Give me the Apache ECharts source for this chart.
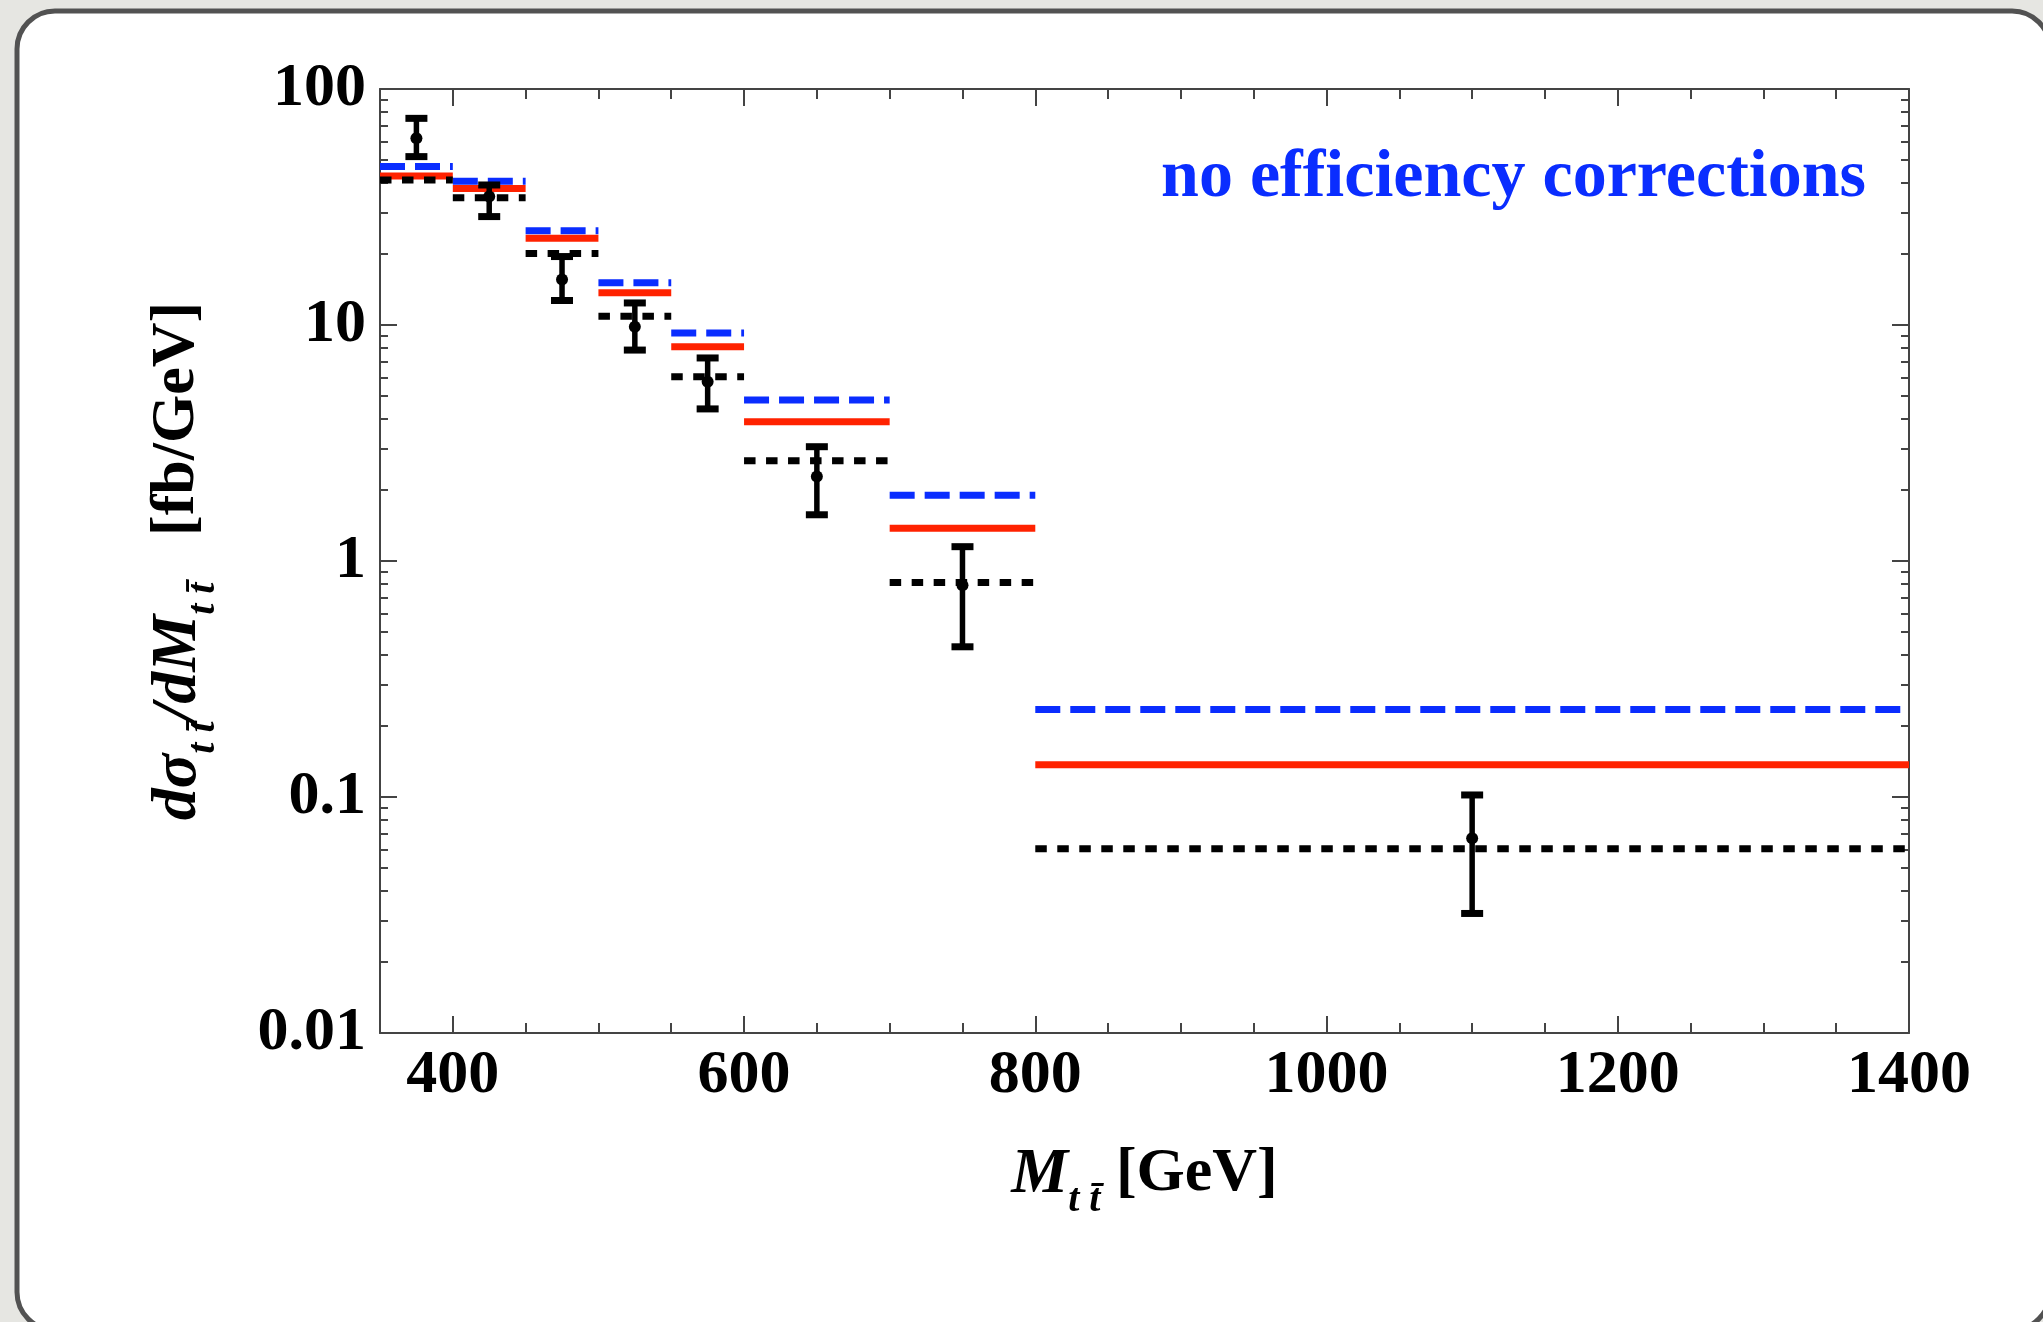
<!DOCTYPE html>
<html>
<head>
<meta charset="utf-8">
<script src="https://cdn.jsdelivr.net/npm/echarts@6/dist/echarts.min.js"></script>
<style>
html,body{margin:0;padding:0;background:#e6e6e2;}
#chart{width:2043px;height:1322px;}
</style>
</head>
<body>
<div id="chart"></div>
<script>
// ---- data ----
const binLo = [350, 400, 450, 500, 550, 600, 700, 800];
const binHi = [400, 450, 500, 550, 600, 700, 800, 1400];
const blueDashed = [46.9, 40.7, 25.1, 15.1, 9.25, 4.81, 1.90, 0.235];
const redSolid   = [42.8, 37.9, 23.3, 13.7, 8.09, 3.89, 1.375, 0.137];
const blackDotted= [41.2, 34.6, 20.1, 10.9, 6.04, 2.66, 0.811, 0.0603];
const dataX   = [375, 425, 475, 525, 575, 650, 750, 1100];
const dataY   = [61.8, 35.0, 15.6, 9.84, 5.75, 2.28, 0.79, 0.0668];
const errLow  = [51.7, 28.8, 12.7, 7.83, 4.41, 1.57, 0.433, 0.0321];
const errHigh = [75.1, 39.2, 19.5, 12.4, 7.25, 3.05, 1.15, 0.102];

const xMajorTicks = [400, 600, 800, 1000, 1200, 1400];
const xTickLabels = ['400', '600', '800', '1000', '1200', '1400'];
const xMinorTicks = [350, 450, 500, 550, 650, 700, 750, 850, 900, 950, 1050, 1100, 1150, 1250, 1300, 1350];
const yMajorTicks = [0.01, 0.1, 1, 10, 100];
const yTickLabels = ['0.01', '0.1', '1', '10', '100'];
const yMinorTicks = [0.02,0.03,0.04,0.05,0.06,0.07,0.08,0.09,
                     0.2,0.3,0.4,0.5,0.6,0.7,0.8,0.9,
                     2,3,4,5,6,7,8,9,
                     20,30,40,50,60,70,80,90];

const FONT = '"Liberation Serif", "DejaVu Serif", serif';
const AXIS_COLOR = '#444';

function xAxisDef(pos, ticks, len, withLine, withLabel) {
  return {
    type: 'value', min: 350, max: 1400, position: pos,
    axisLine: {show: withLine, onZero: false, lineStyle: {color: AXIS_COLOR, width: 2}},
    axisTick: {show: true, inside: true, length: len, customValues: ticks,
               lineStyle: {color: AXIS_COLOR, width: 2}},
    axisLabel: withLabel ? {show: true, customValues: xMajorTicks, margin: 12,
                color: '#000', fontFamily: FONT, fontWeight: 'bold', fontSize: 62,
                formatter: function (v) {
                  const k = xMajorTicks.indexOf(Math.round(v));
                  return k >= 0 ? xTickLabels[k] : '';
                }}
                         : {show: false},
    splitLine: {show: false}
  };
}
function yAxisDef(pos, ticks, len, withLine, withLabel) {
  return {
    type: 'log', logBase: 10, min: 0.01, max: 100, position: pos,
    axisLine: {show: withLine, onZero: false, lineStyle: {color: AXIS_COLOR, width: 2}},
    axisTick: {show: true, inside: true, length: len, customValues: ticks,
               lineStyle: {color: AXIS_COLOR, width: 2}},
    axisLabel: withLabel ? {show: true, customValues: yMajorTicks, margin: 14,
                color: '#000', fontFamily: FONT, fontWeight: 'bold', fontSize: 62,
                formatter: function (v) {
                  const k = Math.round(Math.log10(v)) + 2;
                  return yTickLabels[k];
                }}
                         : {show: false},
    splitLine: {show: false}
  };
}

function binSeries(values, color, width, dash, z) {
  return {
    type: 'custom', z: z,
    data: binLo.map((lo, i) => [lo, binHi[i], values[i]]),
    encode: {x: [0, 1], y: 2},
    renderItem: function (params, api) {
      const p0 = api.coord([api.value(0), api.value(2)]);
      const p1 = api.coord([api.value(1), api.value(2)]);
      return {
        type: 'line',
        shape: {x1: p0[0], y1: p0[1], x2: p1[0], y2: p1[1]},
        style: {stroke: color, lineWidth: width, lineDash: dash, lineCap: 'butt'}
      };
    }
  };
}

const titleRich = {
  bi: {fontFamily: FONT, fontStyle: 'italic', fontWeight: 'bold', fontSize: 64, color: '#000', verticalAlign: 'top', lineHeight: 68},
  sub: {fontFamily: FONT, fontStyle: 'italic', fontWeight: 'bold', fontSize: 40, color: '#000', verticalAlign: 'middle', lineHeight: 116},
  b: {fontFamily: FONT, fontWeight: 'bold', fontSize: 62, color: '#000', verticalAlign: 'top', lineHeight: 68}
};

const chart = echarts.init(document.getElementById('chart'), null, {renderer: 'canvas'});
const option = {
  backgroundColor: '#e6e6e2',
  animation: false,
  graphic: [
    {type: 'rect', z: -100, silent: true,
     shape: {x: 17, y: 11, width: 2033, height: 1319, r: 38},
     style: {fill: '#ffffff', stroke: '#525252', lineWidth: 5}},
    {type: 'text', z: 100, silent: true, x: 1866, y: 178,
     style: {text: 'no efficiency corrections', fill: '#0a2dff',
             font: 'bold 68px "Liberation Serif"', textAlign: 'right', textVerticalAlign: 'middle'}}
  ],
  grid: {left: 380, top: 89, right: 134, bottom: 289, containLabel: false},
  xAxis: [
    Object.assign(xAxisDef('bottom', xMajorTicks, 17, true, true), {
      name: '{bi|M}{sub|t t\u0304}{b| [GeV]}',
      nameLocation: 'middle', nameGap: 110,
      nameTextStyle: {rich: titleRich}
    }),
    xAxisDef('bottom', xMinorTicks, 10, false, false),
    xAxisDef('top', xMajorTicks, 17, true, false),
    xAxisDef('top', xMinorTicks, 10, false, false)
  ],
  yAxis: [
    Object.assign(yAxisDef('left', yMajorTicks, 17, true, true), {
      name: '{bi|d\u03c3}{sub|t t\u0304}{bi|/dM}{sub|t t\u0304}{b|   [fb/GeV]}',
      nameLocation: 'middle', nameGap: 118, nameRotate: 90,
      nameTextStyle: {rich: titleRich}
    }),
    yAxisDef('left', yMinorTicks, 8, false, false),
    yAxisDef('right', yMajorTicks, 17, true, false),
    yAxisDef('right', yMinorTicks, 8, false, false)
  ],
  series: [
    binSeries(blueDashed, '#0a2dff', 7, [25, 10], 3),
    binSeries(redSolid, '#ff2200', 7, null, 4),
    binSeries(blackDotted, '#000000', 7, [11.5, 10.5], 5),
    {
      type: 'custom', z: 6,
      data: dataX.map((x, i) => [x, dataY[i], errLow[i], errHigh[i]]),
      encode: {x: 0, y: [1, 2, 3]},
      renderItem: function (params, api) {
        const x = api.value(0);
        const pc = api.coord([x, api.value(1)]);
        const pl = api.coord([x, api.value(2)]);
        const ph = api.coord([x, api.value(3)]);
        const cw = 11;
        const st = {stroke: '#000', lineWidth: 5.5};
        return {
          type: 'group',
          children: [
            {type: 'line', shape: {x1: pl[0], y1: pl[1], x2: ph[0], y2: ph[1]}, style: st},
            {type: 'line', shape: {x1: pl[0] - cw, y1: pl[1], x2: pl[0] + cw, y2: pl[1]}, style: {stroke: '#000', lineWidth: 7}},
            {type: 'line', shape: {x1: ph[0] - cw, y1: ph[1], x2: ph[0] + cw, y2: ph[1]}, style: {stroke: '#000', lineWidth: 7}},
            {type: 'circle', shape: {cx: pc[0], cy: pc[1], r: 6}, style: {fill: '#000'}}
          ]
        };
      }
    }
  ]
};
chart.setOption(option);
</script>
</body>
</html>
